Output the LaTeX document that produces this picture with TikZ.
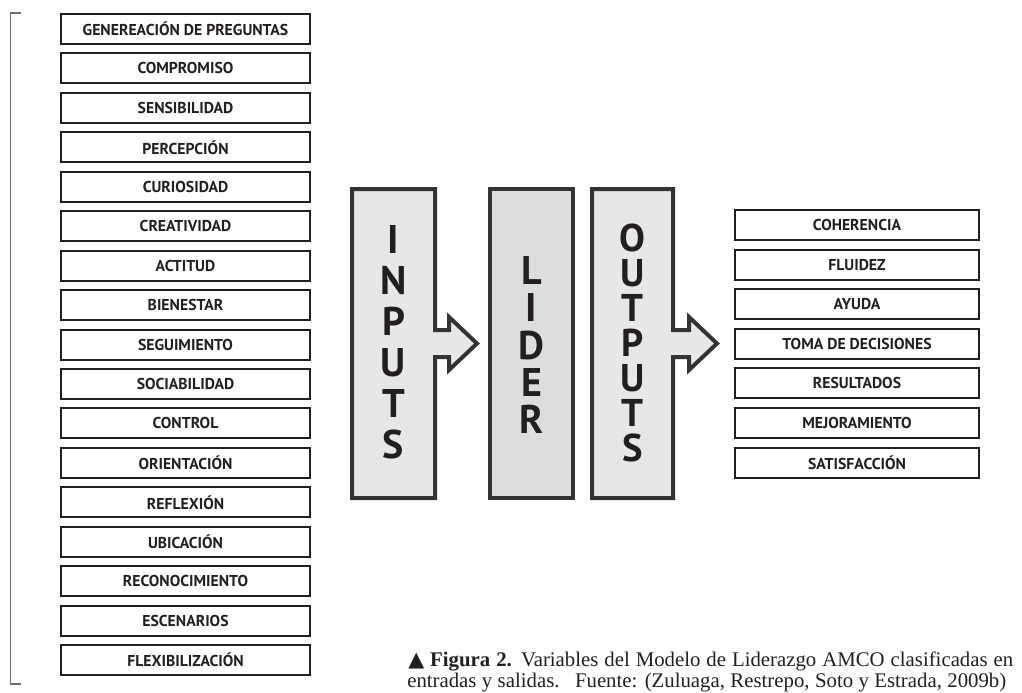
\documentclass[tikz,border=0pt]{standalone}
\usepackage{fontspec}
\usepackage{xcolor}
\usepackage{tikz}
\usetikzlibrary{positioning}
\newfontfamily\boxfont{PT Sans}
\newfontfamily\captfont{Liberation Serif}
\newfontfamily\symfont{DejaVu Sans}
\definecolor{ink}{HTML}{231F20}
\definecolor{frame}{HTML}{333335}
\definecolor{panel}{HTML}{E6E7E8}
\definecolor{panelmid}{HTML}{DCDDDE}
\definecolor{brk}{HTML}{6D6E70}
\tikzset{
  varbox/.style={draw=ink,line width=1.5pt,minimum width=186.75pt,minimum height=22.5pt,inner sep=0pt,text=ink,font=\boxfont\bfseries\fontsize{11.8}{13}\selectfont},
  outbox/.style={varbox,minimum width=183pt},
  stage/.style={draw=frame,line width=3pt,fill=panel,line join=miter},
  stagemid/.style={stage,fill=panelmid},
  stagetxt/.style={align=center,inner sep=0pt,text=ink,font=\boxfont\bfseries\fontsize{30}{30.75}\selectfont},
  brack/.style={draw=brk,line width=1.1pt},
  capt/.style={anchor=base west,inner sep=0pt,text=ink,font=\captfont\fontsize{15.6}{18}\selectfont},
}

\begin{document}
\begin{tikzpicture}[x=0.75pt,y=-0.75pt]
        \useasboundingbox (0,0) rectangle (1022,693);
        \foreach \lbl [count=\i from 0] in {GENEREACIÓN DE PREGUNTAS,COMPROMISO,SENSIBILIDAD,PERCEPCIÓN,CURIOSIDAD,CREATIVIDAD,ACTITUD,BIENESTAR,SEGUIMIENTO,SOCIABILIDAD,CONTROL,ORIENTACIÓN,REFLEXIÓN,UBICACIÓN,RECONOCIMIENTO,ESCENARIOS,FLEXIBILIZACIÓN}
          \node[varbox] (v\i) at (185.5,{29+39.44*\i}) {\lbl};
        \draw[brack] (21,13) -| (10.5,684) -- (21,684);
        \draw[stage] (352,189) -- (435,189) -- (435,330) -- (449,330) -- (449,317) -- (477,343.5) -- (449,370) -- (449,357) -- (435,357) -- (435,498) -- (352,498) -- cycle;
        \draw[stagemid] (490,189) rectangle (573,498);
        \draw[stage] (592,189) -- (673,189) -- (673,330) -- (689,330) -- (689,317) -- (717,343.5) -- (689,370) -- (689,357) -- (673,357) -- (673,498) -- (592,498) -- cycle;
        \node[stagetxt] (inp) at (393.5,342) {I\\N\\P\\U\\T\\S};
        \node[stagetxt,font=\boxfont\bfseries\fontsize{30}{28}\selectfont] (lid) at (531.5,345) {L\\I\\D\\E\\R};
        \node[stagetxt,font=\boxfont\bfseries\fontsize{29}{26.25}\selectfont] (outp) at (632.5,342.5) {O\\U\\T\\P\\U\\T\\S};
        \foreach \lbl [count=\i from 0] in {COHERENCIA,FLUIDEZ,AYUDA,TOMA DE DECISIONES,RESULTADOS,MEJORAMIENTO,SATISFACCIÓN}
          \node[outbox] (o\i) at (857,{225+39.6*\i}) {\lbl};
        \node[capt] (cap1) at (408,666) {\makebox[453.75pt][s]{{\symfont ▲} \textbf{Figura 2.} Variables del Modelo de Liderazgo AMCO clasificadas en}};
        \node[capt] (cap2) at (407,687) {\makebox[449.25pt][s]{entradas y salidas.\hspace{6pt} Fuente: (Zuluaga, Restrepo, Soto y Estrada, 2009b)}};
      \end{tikzpicture}
\end{document}
